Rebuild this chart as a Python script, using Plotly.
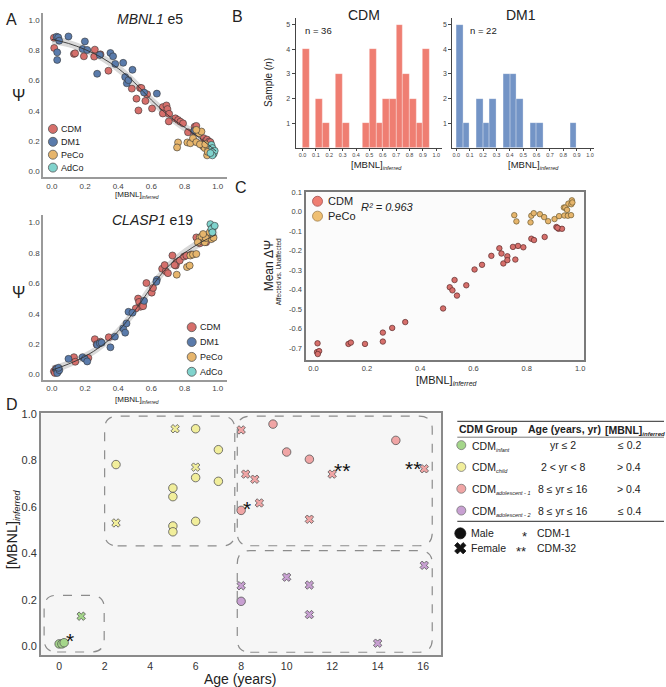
import plotly.graph_objects as go

W, H = 666, 687
FONT = "Arial, Liberation Sans, sans-serif"

# ---------------- DATA ----------------
# Panel A (top): MBNL1 e5
e5_cdm_x = [0.012,0.014,0.133,0.14,0.193,0.259,0.255,0.293,0.341,0.482,0.532,0.54,0.564,0.51,0.522,0.574,0.604,0.669,0.691,0.697,0.669,0.707,0.745,0.705,0.761,0.775,0.791,0.821,0.861,0.871,0.916,0.928,0.936,0.948,0.956,0.857]
e5_cdm_y = [0.882,0.815,0.776,0.78,0.76,0.804,0.758,0.773,0.665,0.547,0.551,0.551,0.466,0.481,0.403,0.51,0.416,0.425,0.436,0.412,0.383,0.381,0.351,0.331,0.34,0.329,0.318,0.259,0.296,0.301,0.22,0.203,0.211,0.198,0.194,0.264]
e5_dm1_x = [0.028,0.038,0.044,0.032,0.032,0.1,0.199,0.185,0.213,0.273,0.289,0.353,0.369,0.382,0.43,0.442,0.452,0.462,0.486,0.556,0.633,0.86]
e5_dm1_y = [0.889,0.885,0.863,0.786,0.736,0.891,0.858,0.808,0.802,0.645,0.769,0.782,0.76,0.71,0.717,0.623,0.582,0.603,0.671,0.521,0.514,0.27]
e5_peco_x = [0.761,0.755,0.817,0.835,0.851,0.871,0.886,0.902,0.912,0.922,0.936,0.944,0.956,0.871,0.893,0.925,0.94]
e5_peco_y = [0.192,0.159,0.192,0.187,0.22,0.194,0.253,0.264,0.166,0.155,0.107,0.15,0.159,0.275,0.18,0.18,0.13]
e5_adco_x = [0.962,0.968,0.972,0.976,0.982,0.968,0.956]
e5_adco_y = [0.176,0.155,0.133,0.118,0.137,0.107,0.122]
e5_fit_x = [0.0,0.1,0.2,0.3,0.4,0.5,0.6,0.7,0.8,0.9,0.99]
e5_fit_y = [0.872,0.845,0.805,0.752,0.68,0.585,0.472,0.372,0.292,0.215,0.135]
e5_fit_se = [0.03,0.025,0.025,0.025,0.03,0.03,0.03,0.03,0.03,0.03,0.035]

# Panel A (bottom): CLASP1 e19
e19_cdm_x = [0.012,0.018,0.024,0.133,0.141,0.259,0.293,0.343,0.57,0.52,0.526,0.534,0.506,0.548,0.602,0.665,0.687,0.7,0.727,0.747,0.751,0.771,0.797,0.811,0.871,0.892,0.912,0.74,0.68,0.61,0.55,0.9,0.93,0.84,0.22,0.27]
e19_cdm_y = [0.022,0.011,0.039,0.115,0.085,0.233,0.217,0.246,0.602,0.5,0.478,0.446,0.435,0.46,0.539,0.696,0.68,0.667,0.783,0.717,0.739,0.75,0.776,0.783,0.902,0.863,0.88,0.72,0.72,0.57,0.45,0.88,0.87,0.79,0.11,0.2]
e19_dm1_x = [0.028,0.038,0.032,0.045,0.1,0.185,0.199,0.213,0.273,0.289,0.353,0.38,0.43,0.442,0.45,0.462,0.486,0.556,0.633,0.63,0.04,0.3]
e19_dm1_y = [0.037,0.022,0.011,0.03,0.104,0.115,0.104,0.087,0.196,0.207,0.18,0.25,0.304,0.276,0.337,0.413,0.407,0.485,0.624,0.61,0.045,0.21]
e19_peco_x = [0.753,0.815,0.831,0.835,0.851,0.871,0.892,0.902,0.922,0.942,0.952,0.962,0.928,0.912,0.975,0.88]
e19_peco_y = [0.657,0.707,0.717,0.783,0.789,0.793,0.902,0.907,0.87,0.907,0.935,0.891,0.898,0.924,0.9,0.87]
e19_adco_x = [0.956,0.972,0.962,0.982,0.968]
e19_adco_y = [0.989,0.967,0.957,0.978,0.935]
e19_fit_x = [0.0,0.1,0.2,0.3,0.4,0.5,0.6,0.7,0.8,0.9,0.99]
e19_fit_y = [0.03,0.07,0.12,0.19,0.285,0.42,0.575,0.71,0.8,0.87,0.92]
e19_fit_se = [0.03,0.025,0.025,0.025,0.03,0.035,0.035,0.03,0.03,0.03,0.035]

# Panel B: histograms of [MBNL]inferred (bin width 0.05)
bin_starts = [0.00,0.05,0.10,0.15,0.20,0.25,0.30,0.35,0.40,0.45,0.50,0.55,0.60,0.65,0.70,0.75,0.80,0.85,0.90,0.95]
cdm_counts = [4,0,2,1,0,3,1,0,0,1,4,1,2,2,5,3,2,1,4,0]
dm1_counts = [5,1,0,2,1,2,0,3,3,2,0,1,1,0,0,0,0,1,0,0]
hist_xticks = [0.0,0.1,0.2,0.3,0.4,0.5,0.6,0.7,0.8,0.9,1.0]

# Panel C: mean dPsi vs [MBNL]inferred
c_cdm_x = [0.015,0.013,0.021,0.016,0.131,0.14,0.193,0.26,0.26,0.295,0.344,0.486,0.511,0.521,0.529,0.538,0.573,0.604,0.632,0.667,0.697,0.705,0.712,0.727,0.727,0.748,0.757,0.767,0.787,0.817,0.827,0.867,0.911,0.919,0.932,0.915]
c_cdm_y = [-0.675,-0.72,-0.715,-0.73,-0.678,-0.671,-0.678,-0.62,-0.666,-0.596,-0.566,-0.496,-0.387,-0.403,-0.35,-0.43,-0.377,-0.296,-0.272,-0.226,-0.187,-0.214,-0.265,-0.228,-0.248,-0.18,-0.245,-0.175,-0.182,-0.138,-0.145,-0.129,-0.078,-0.087,-0.087,-0.082]
c_peco_x = [0.753,0.761,0.814,0.817,0.826,0.849,0.865,0.88,0.904,0.921,0.939,0.941,0.944,0.951,0.954,0.956,0.966,0.967,0.969,0.971]
c_peco_y = [-0.017,-0.049,-0.054,-0.02,-0.007,-0.012,-0.027,-0.048,-0.037,-0.022,0.022,-0.019,0.022,0.01,-0.02,0.042,-0.017,0.039,0.059,0.048]

# Panel D: age vs [MBNL]inferred by CDM group and sex
inf_m_x = [0.0,0.12,0.22];  inf_m_y = [0.011,0.011,0.016]
inf_f_x = [0.97];           inf_f_y = [0.13]
chd_m_x = [2.5,6.0,7.0,6.0,7.0,5.0,5.0,6.0,5.0,5.0]
chd_m_y = [0.782,0.936,0.846,0.726,0.71,0.681,0.644,0.538,0.518,0.493]
chd_f_x = [5.1,6.0,2.5];    chd_f_y = [0.936,0.771,0.531]
ad1_m_x = [8.0,9.4,10.0,11.0,14.8]
ad1_m_y = [0.585,0.956,0.836,0.805,0.886]
ad1_f_x = [8.0,8.2,8.6,8.8,11.0,12.0,16.05]
ad1_f_y = [0.931,0.741,0.719,0.617,0.547,0.741,0.764]
ad2_m_x = [8.0];            ad2_m_y = [0.194]
ad2_f_x = [8.0,10.0,11.0,11.0,14.0,16.05]
ad2_f_y = [0.261,0.298,0.264,0.137,0.014,0.349]
# group boxes (x0, x1, y0, y1)
group_boxes = [(-0.66, 1.98, -0.024, 0.22), (2.0, 7.72, 0.432, 0.99),
               (7.83, 16.4, 0.433, 0.99), (7.83, 16.4, -0.025, 0.412)]
# patient marks: (text, age, mbnl)
patient_marks = [("*", 0.47, 0.044), ("*", 8.25, 0.61), ("**", 12.45, 0.775), ("**", 15.55, 0.784)]
d_xticks = [0, 2, 4, 6, 8, 10, 12, 14, 16]

# colours
C_CDM, C_DM1, C_PECO, C_ADCO = "#d66f6b", "#5a7bab", "#e6b56c", "#80d3cd"
H_CDM, H_DM1 = "#ef7e72", "#7394c6"
G_INF, G_CHD, G_AD1, G_AD2 = "#a4d68a", "#f1ee9b", "#f0a5a5", "#c8a0d2"

# ---------------- helpers ----------------
def dx(a, b): return [a / W, b / W]
def dy(top, bot): return [1 - bot / H, 1 - top / H]

fig = go.Figure()

def scat(x, y, xa, ya, color, size, symbol="circle", lw=0.7, lc="rgba(50,50,50,0.85)"):
    fig.add_trace(go.Scatter(x=x, y=y, mode="markers", xaxis=xa, yaxis=ya, hoverinfo="skip",
                             marker=dict(color=color, size=size, symbol=symbol,
                                         line=dict(color=lc, width=lw))))

def fit(xs, ys, se, xa, ya):
    lo = [y - s for y, s in zip(ys, se)]
    hi = [y + s for y, s in zip(ys, se)]
    fig.add_trace(go.Scatter(x=xs + xs[::-1], y=hi + lo[::-1], fill="toself", mode="lines",
                             line=dict(width=0, shape="spline"), fillcolor="rgba(170,170,170,0.45)",
                             xaxis=xa, yaxis=ya, hoverinfo="skip"))

def fitline(xs, ys, xa, ya):
    fig.add_trace(go.Scatter(x=xs, y=ys, mode="lines", line=dict(color="#333", width=0.9, shape="spline"),
                             xaxis=xa, yaxis=ya, hoverinfo="skip"))

# Panel A top
fit(e5_fit_x, e5_fit_y, e5_fit_se, "x", "y")
for xs, ys, c in [(e5_cdm_x, e5_cdm_y, C_CDM), (e5_dm1_x, e5_dm1_y, C_DM1),
                  (e5_peco_x, e5_peco_y, C_PECO), (e5_adco_x, e5_adco_y, C_ADCO)]:
    scat(xs, ys, "x", "y", c, 7)
fitline(e5_fit_x, e5_fit_y, "x", "y")

# Panel A bottom
fit(e19_fit_x, e19_fit_y, e19_fit_se, "x2", "y2")
for xs, ys, c in [(e19_cdm_x, e19_cdm_y, C_CDM), (e19_dm1_x, e19_dm1_y, C_DM1),
                  (e19_peco_x, e19_peco_y, C_PECO), (e19_adco_x, e19_adco_y, C_ADCO)]:
    scat(xs, ys, "x2", "y2", c, 7)
fitline(e19_fit_x, e19_fit_y, "x2", "y2")

# Panel B
for counts, c, xa, ya in [(cdm_counts, H_CDM, "x3", "y3"), (dm1_counts, H_DM1, "x4", "y4")]:
    bx = [b + 0.025 for b, n in zip(bin_starts, counts) if n > 0]
    by = [n for n in counts if n > 0]
    fig.add_trace(go.Bar(x=bx, y=by, width=0.05, xaxis=xa, yaxis=ya, hoverinfo="skip",
                         marker=dict(color=c, line=dict(color="rgba(255,255,255,0.6)", width=0.5))))

# Panel C
scat(c_peco_x, c_peco_y, "x5", "y5", C_PECO, 5.5, lc="#6b5a30")
scat(c_cdm_x, c_cdm_y, "x5", "y5", C_CDM, 5.5, lc="#5a2a2a")

# Panel D
for mx, my, fx, fy, c in [(inf_m_x, inf_m_y, inf_f_x, inf_f_y, G_INF),
                          (chd_m_x, chd_m_y, chd_f_x, chd_f_y, G_CHD),
                          (ad1_m_x, ad1_m_y, ad1_f_x, ad1_f_y, G_AD1),
                          (ad2_m_x, ad2_m_y, ad2_f_x, ad2_f_y, G_AD2)]:
    scat(mx, my, "x6", "y6", c, 8.5, lw=0.8, lc="#555")
    scat(fx, fy, "x6", "y6", c, 7.5, symbol="x", lw=0.8, lc="#555")

# ---------------- overlay (pixel) axis for legend glyphs ----------------
def lg(x, y, c, size, symbol="circle", lc="#555"):
    fig.add_trace(go.Scatter(x=[x], y=[y], mode="markers", xaxis="x7", yaxis="y7", hoverinfo="skip",
                             marker=dict(color=c, size=size, symbol=symbol, line=dict(color=lc, width=0.8))))

for i, c in enumerate([C_CDM, C_DM1, C_PECO, C_ADCO]):
    lg(53, 124 + i * 13, c, 9)
    lg(192, 324 + i * 15, c, 9)
lg(318, 197, "#ef7e72", 10, lc="#a05050")
lg(318, 212, "#efbf72", 10, lc="#a08050")
for i, c in enumerate([G_INF, G_CHD, G_AD1, G_AD2]):
    lg(462, 443 + i * 22, c, 9, lc="#777")
lg(461, 532, "#111", 11, lc="#111")
lg(461, 547, "#111", 10, symbol="x", lc="#111")

# ---------------- layout ----------------
def axis(dom, rng, anchor, **kw):
    d = dict(domain=dom, range=rng, anchor=anchor, showgrid=False, zeroline=False,
             tickfont=dict(size=8, color="#444"), ticks="", fixedrange=True)
    d.update(kw)
    return d

A_LINE = dict(showline=True, linecolor="#9a9a9a", linewidth=1.5)
a_ticks = [0.0, 0.2, 0.4, 0.6, 0.8, 1.0]
a_ticktext = ["%.1f" % v for v in a_ticks]

layout = dict(
    width=W, height=H, margin=dict(l=0, r=0, t=0, b=0),
    paper_bgcolor="white", plot_bgcolor="rgba(0,0,0,0)", showlegend=False,
    font=dict(family=FONT, color="#222"), bargap=0,
    xaxis=axis(dx(43, 227), [-0.054, 1.054], "y", tickvals=a_ticks, ticktext=a_ticktext, **A_LINE),
    yaxis=axis(dy(7, 173), [-0.039, 1.046], "x", tickvals=a_ticks, ticktext=a_ticktext, **A_LINE),
    xaxis2=axis(dx(43, 227), [-0.054, 1.054], "y2", tickvals=a_ticks, ticktext=a_ticktext, **A_LINE),
    yaxis2=axis(dy(211, 377), [-0.033, 1.048], "x2", tickvals=a_ticks, ticktext=a_ticktext, **A_LINE),
    xaxis3=axis(dx(296, 443), [-0.052, 1.045], "y3", tickvals=hist_xticks,
                ticktext=["%.1f" % v for v in hist_xticks], tickfont=dict(size=5.5, color="#444"),
                showline=True, linecolor="#444", linewidth=1, ticks="outside", ticklen=2, tickcolor="#444"),
    yaxis3=axis(dy(12, 143), [0, 5.28], "x3", tickvals=[1, 2, 3, 4, 5], tickfont=dict(size=7, color="#444"),
                showline=True, linecolor="#444", linewidth=1, ticks="outside", ticklen=3, tickcolor="#444"),
    xaxis4=axis(dx(453, 595), [-0.03, 1.03], "y4", tickvals=hist_xticks,
                ticktext=["%.1f" % v for v in hist_xticks], tickfont=dict(size=5.5, color="#444"),
                showline=True, linecolor="#444", linewidth=1, ticks="outside", ticklen=2, tickcolor="#444"),
    yaxis4=axis(dy(12, 143), [0, 5.28], "x4", tickvals=[1, 2, 3, 4, 5], tickfont=dict(size=7, color="#444"),
                showline=True, linecolor="#444", linewidth=1, ticks="outside", ticklen=3, tickcolor="#444"),
    xaxis5=axis(dx(306, 585), [-0.03, 1.015], "y5", tickvals=a_ticks, ticktext=a_ticktext,
                tickfont=dict(size=7.5, color="#444"), showline=True, mirror=True, linecolor="#7a7a7a", linewidth=2),
    yaxis5=axis(dy(188, 357), [-0.76, 0.1], "x5", tickvals=[0.1, 0.0, -0.1, -0.2, -0.3, -0.4, -0.5, -0.6, -0.7],
                ticktext=["0.1", "0.0", "-0.1", "-0.2", "-0.3", "-0.4", "-0.5", "-0.6", "-0.7"],
                tickfont=dict(size=7.5, color="#444"), showline=True, mirror=True, linecolor="#7a7a7a", linewidth=2),
    xaxis6=axis(dx(41, 442), [-0.8, 16.8], "y6", tickvals=d_xticks, tickfont=dict(size=10.5, color="#333"),
                showline=True, mirror=True, linecolor="#8a8a8a", linewidth=1.8),
    yaxis6=axis(dy(411, 655), [-0.038, 1.002], "x6", tickvals=a_ticks, ticktext=a_ticktext,
                tickfont=dict(size=11, color="#333"), showline=True, mirror=True, linecolor="#8a8a8a", linewidth=1.8),
    xaxis7=dict(domain=[0, 1], range=[0, W], anchor="y7", visible=False, fixedrange=True),
    yaxis7=dict(domain=[0, 1], range=[H, 0], anchor="x7", visible=False, fixedrange=True),
)
fig.update_layout(**layout)

shapes = []
# backgrounds for C and D
shapes.append(dict(type="rect", xref="x5 domain", yref="y5 domain", x0=0, x1=1, y0=0, y1=1,
                   fillcolor="#fbfbfb", line=dict(width=0), layer="below"))
shapes.append(dict(type="rect", xref="x6 domain", yref="y6 domain", x0=0, x1=1, y0=0, y1=1,
                   fillcolor="#f6f6f6", line=dict(width=0), layer="below"))
# rounded dashed group boxes in D
rx = 13 / (401 / 17.6)
ry = 13 / (244 / 1.04)
for x0, x1, y0, y1 in group_boxes:
    p = (f"M {x0+rx},{y0} L {x1-rx},{y0} Q {x1},{y0} {x1},{y0+ry} L {x1},{y1-ry} "
         f"Q {x1},{y1} {x1-rx},{y1} L {x0+rx},{y1} Q {x0},{y1} {x0},{y1-ry} "
         f"L {x0},{y0+ry} Q {x0},{y0} {x0+rx},{y0} Z")
    shapes.append(dict(type="path", path=p, xref="x6", yref="y6",
                       line=dict(color="#8c8c8c", width=1.2, dash="dash")))
# table rules
for yy, w in [(419, 1.2), (435, 0.8), (520, 1.2)]:
    shapes.append(dict(type="line", xref="paper", yref="paper", x0=458 / W, x1=665 / W,
                       y0=1 - yy / H, y1=1 - yy / H, line=dict(color="#555", width=w)))
fig.update_layout(shapes=shapes)

anns = []
def ann(text, x, y, size=10, xanchor="center", yanchor="middle", angle=0, color="#222", **kw):
    anns.append(dict(text=text, x=x / W, y=1 - y / H, xref="paper", yref="paper", showarrow=False,
                     xanchor=xanchor, yanchor=yanchor, textangle=angle,
                     font=dict(size=size, color=color, family=FONT), **kw))

def sub(t, px):
    return f"<sub><span style='font-size:{px}px'><i>{t}</i></span></sub>"

# panel letters
ann("A", 12, 14, 16); ann("B", 238, 11, 16); ann("C", 241, 183, 16); ann("D", 12, 402, 16)
# panel A
ann("<i>MBNL1</i> e5", 150, 13, 14)
ann("<i>CLASP1</i> e19", 153, 216, 14)
ann("Ψ", 19, 90, 16); ann("Ψ", 19, 289, 16)
ann("[MBNL]" + sub("inferred", 5), 137, 191, 8)
ann("[MBNL]" + sub("inferred", 5), 137, 397, 8)
for i, t in enumerate(["CDM", "DM1", "PeCo", "AdCo"]):
    ann(t, 59, 124 + i * 13, 9, xanchor="left")
    ann(t, 198, 324 + i * 15, 9, xanchor="left")
# panel B
ann("CDM", 365, 9, 14); ann("DM1", 522, 9, 14)
ann("n = 36", 303, 25, 9.5, xanchor="left"); ann("n = 22", 469, 25, 9.5, xanchor="left")
ann("Sample (<i>n</i>)", 269, 77, 10, angle=-90)
ann("[MBNL]" + sub("inferred", 5.5), 377, 160, 9.5); ann("[MBNL]" + sub("inferred", 5.5), 534, 160, 9.5)
# panel C
ann("CDM", 326, 197, 11, xanchor="left"); ann("PeCo", 326, 212, 11, xanchor="left")
ann("<i>R² = 0.963</i>", 360, 203, 11, xanchor="left")
ann("Mean ΔΨ", 269, 262, 12, angle=-90)
ann("Affected vs. Unaffected", 279, 268, 6.5, angle=-90)
ann("[MBNL]" + sub("inferred", 7), 448, 378, 11)
# panel D
ann("[MBNL]" + sub("inferred", 9), 13, 528, 14.5, angle=-90)
ann("Age (years)", 240, 679, 14)
for t, ax_, ay_ in patient_marks:
    anns.append(dict(text=t, x=ax_, y=ay_, xref="x6", yref="y6", showarrow=False, yshift=-4,
                     font=dict(size=21, color="#111", family=FONT)))
# table
ann("<b>CDM Group</b>", 458, 427, 10.5, xanchor="left")
ann("<b>Age (years, yr)</b>", 565, 427, 10.5)
ann("<b>[MBNL]" + sub("inferred", 6) + "</b>", 604, 428, 10.5, xanchor="left")
rows = [("CDM" + sub("infant", 5.5), "yr ≤ 2", "≤ 0.2"),
        ("CDM" + sub("child", 5.5), "2 < yr < 8", "> 0.4"),
        ("CDM" + sub("adolescent - 1", 5.5), "8 ≤ yr ≤ 16", "> 0.4"),
        ("CDM" + sub("adolescent - 2", 5.5), "8 ≤ yr ≤ 16", "≤ 0.4")]
for i, (g, a, m) in enumerate(rows):
    yy = 444 + i * 22
    ann(g, 471, yy, 10.5, xanchor="left")
    ann(a, 564, yy - 1, 10.5)
    ann(m, 630, yy - 1, 10.5)
ann("Male", 470, 532, 10.5, xanchor="left")
ann("Female", 470, 547, 10.5, xanchor="left")
ann("*", 525, 535, 13); ann("CDM-1", 536, 532, 10.5, xanchor="left")
ann("**", 522, 550, 13); ann("CDM-32", 536, 547, 10.5, xanchor="left")
fig.update_layout(annotations=anns)

fig.write_html("out.html", config={"displayModeBar": False},
               post_script="document.body.style.margin='0px';")
